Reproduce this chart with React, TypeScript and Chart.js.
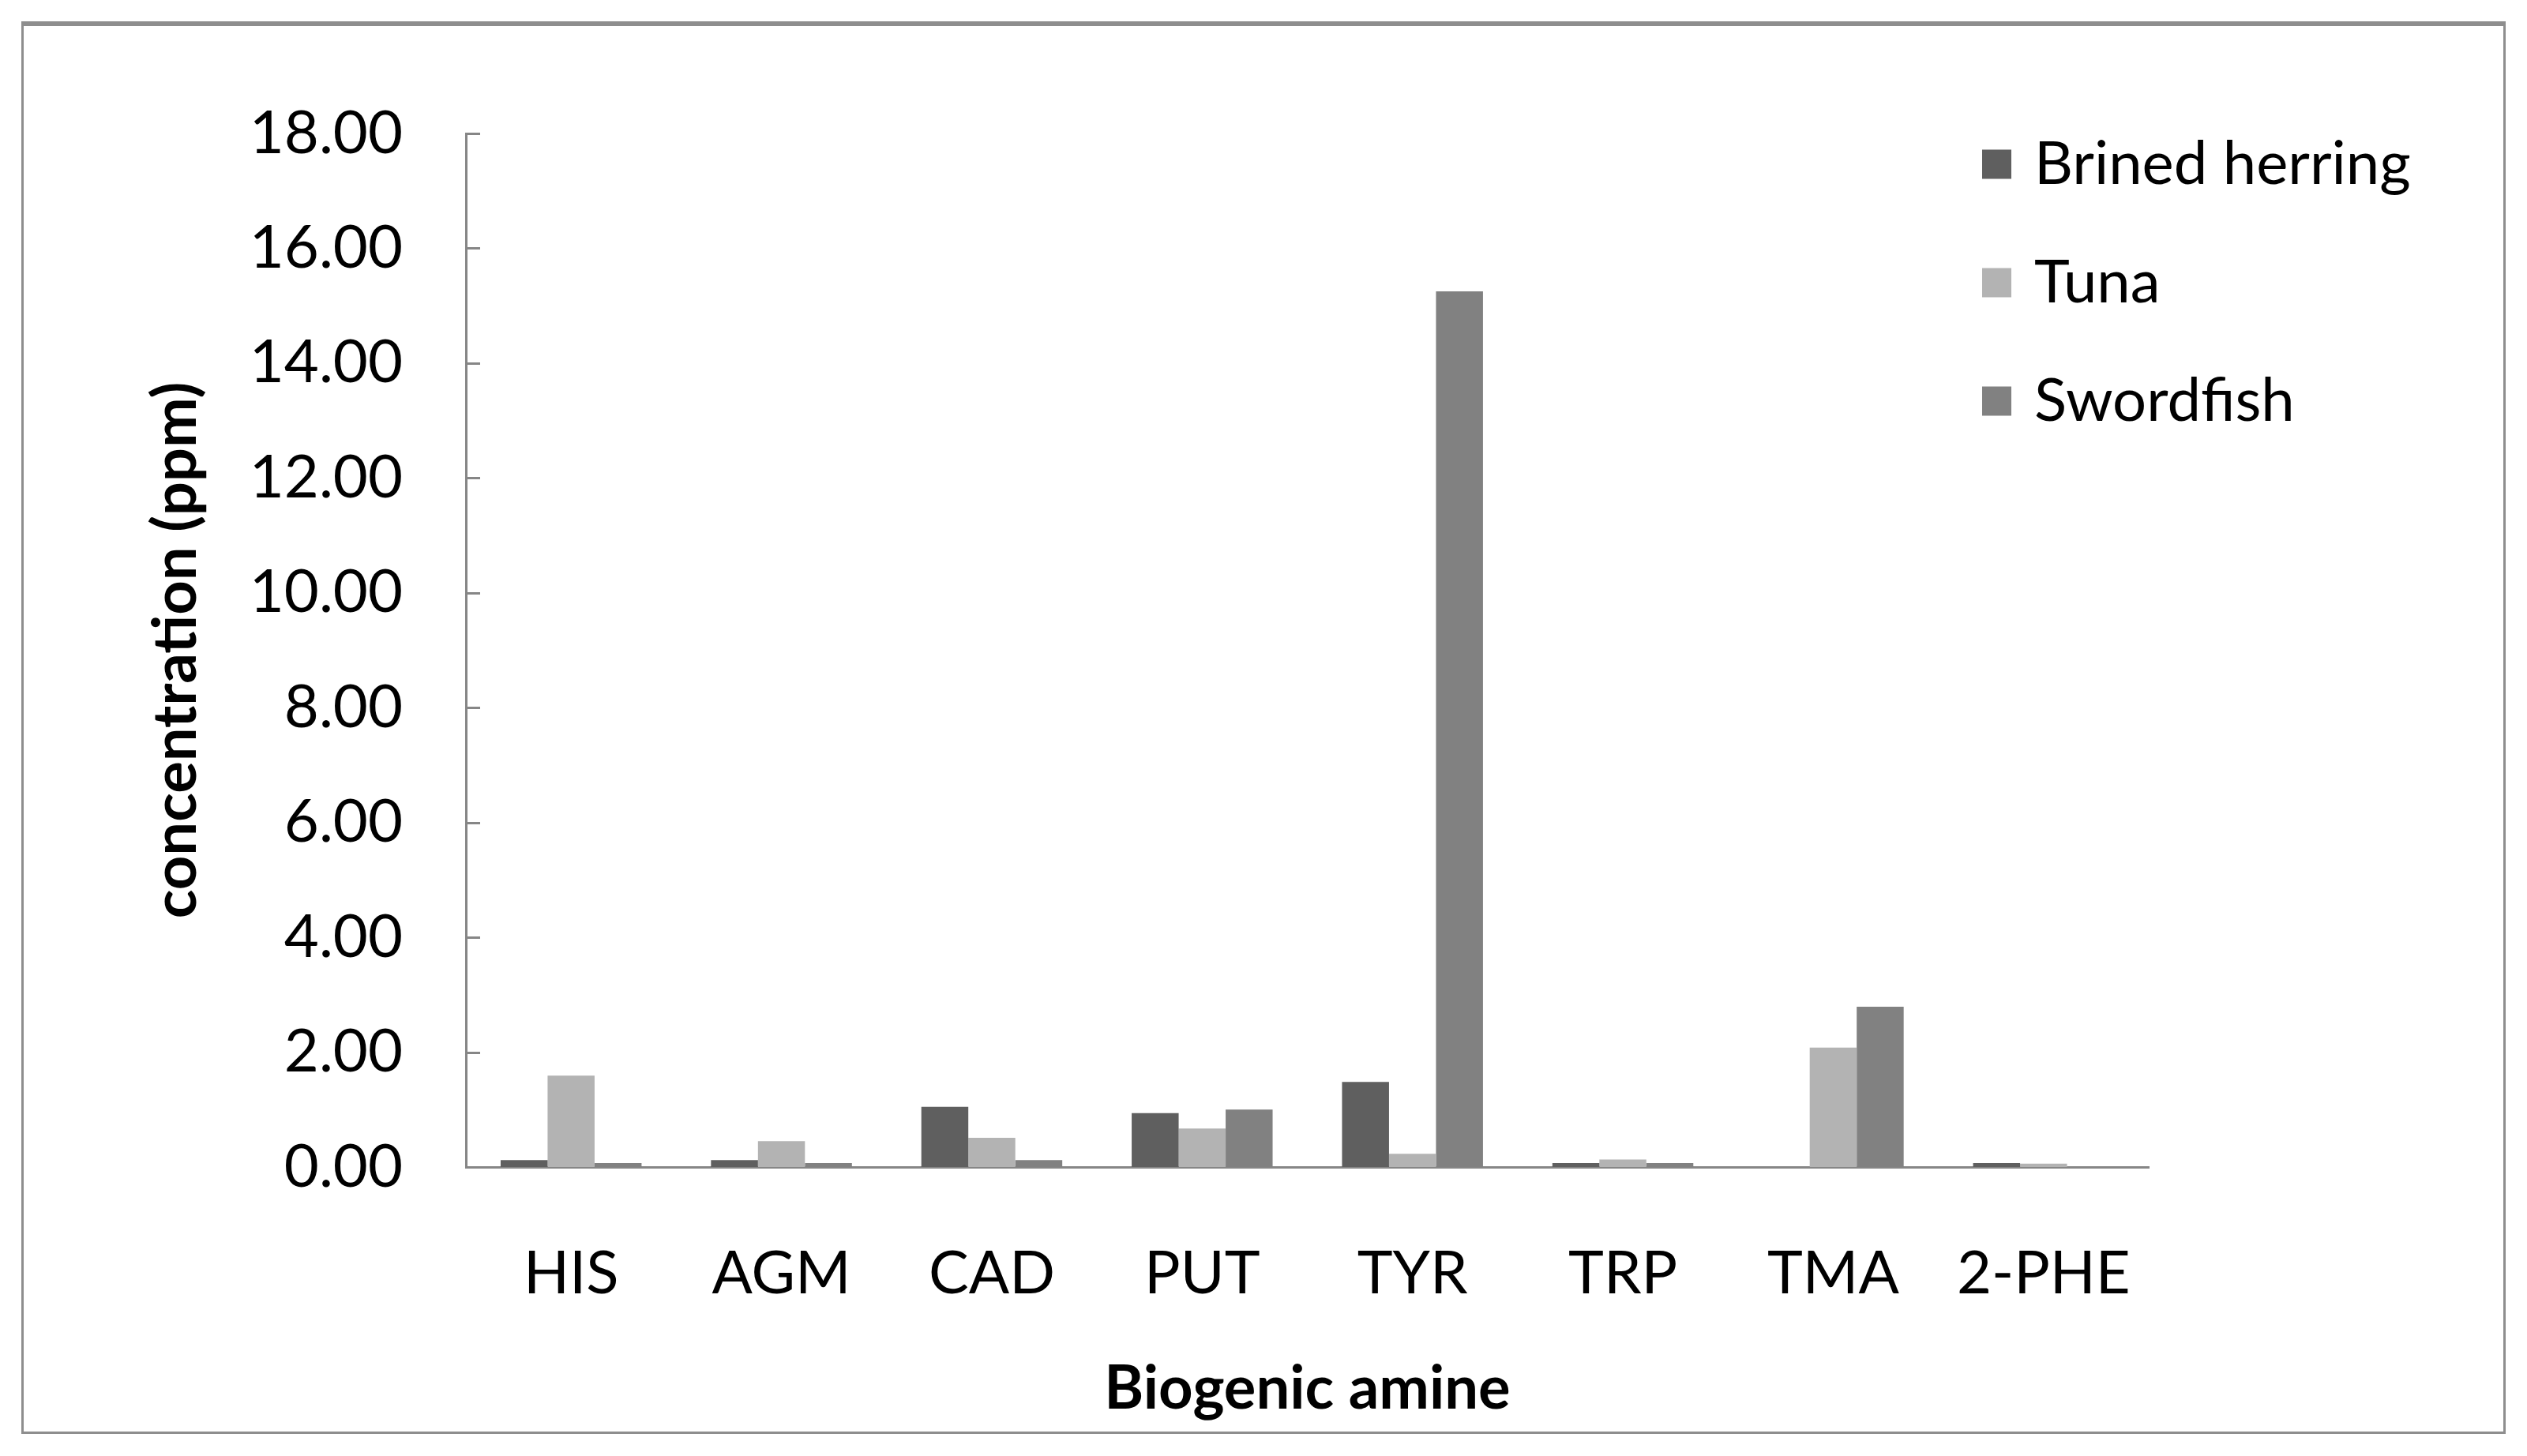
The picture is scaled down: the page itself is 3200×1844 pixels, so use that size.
import React, { useEffect, useRef } from "react";
import { Chart, registerables } from "chart.js";

Chart.register(...registerables);

const categories = ["HIS", "AGM", "CAD", "PUT", "TYR", "TRP", "TMA", "2-PHE"];
const brinedHerring = [0.12, 0.12, 1.05, 0.94, 1.48, 0.07, 0, 0.07];
const tuna = [1.59, 0.45, 0.51, 0.67, 0.23, 0.13, 2.08, 0.06];
const swordfish = [0.07, 0.07, 0.12, 1.0, 15.25, 0.07, 2.79, 0];
const seriesNames = ["Brined herring", "Tuna", "Swordfish"];
const seriesColors = ["#5f5f5f", "#b3b3b3", "#818181"];
const yTicks = [0, 2, 4, 6, 8, 10, 12, 14, 16, 18];

const W = 3200;
const H = 1844;
const FONT = "Lato, 'Noto Sans', sans-serif";

const innerTicks = {
  id: "innerTicks",
  afterDraw(chart: any) {
    const y = chart.scales.y;
    const ctx = chart.ctx;
    const left = chart.chartArea.left;
    ctx.save();
    ctx.strokeStyle = "#868686";
    ctx.lineWidth = 3;
    yTicks.forEach((v) => {
      const py = Math.round(y.getPixelForValue(v)) + 0.5;
      ctx.beginPath();
      ctx.moveTo(left, py);
      ctx.lineTo(left + 18, py);
      ctx.stroke();
    });
    ctx.restore();
  },
};

const sideLegend = {
  id: "sideLegend",
  afterDraw(chart: any) {
    const ctx = chart.ctx;
    const x0 = 2510;
    const y0 = 208;
    const step = 150;
    const sq = 37;
    ctx.save();
    ctx.font = `76px ${FONT}`;
    ctx.textBaseline = "middle";
    ctx.textAlign = "left";
    chart.data.datasets.forEach((ds: any, i: number) => {
      const cy = y0 + i * step;
      ctx.fillStyle = ds.backgroundColor;
      ctx.fillRect(x0, cy - sq / 2, sq, sq);
      ctx.fillStyle = "#000000";
      ctx.fillText(ds.label, x0 + 66, cy);
    });
    ctx.restore();
  },
};

export default function App() {
  const ref = useRef<HTMLCanvasElement | null>(null);
  useEffect(() => {
    document.body.style.margin = "0";
    document.body.style.overflow = "hidden";
    if (!ref.current) return;
    const datasets = [brinedHerring, tuna, swordfish].map((d, i) => ({
      label: seriesNames[i],
      data: d,
      backgroundColor: seriesColors[i],
      borderWidth: 0,
      categoryPercentage: 0.67,
      barPercentage: 1.0,
    }));
    const chart = new Chart(ref.current, {
      type: "bar",
      data: { labels: categories, datasets },
      plugins: [innerTicks, sideLegend],
      options: {
        animation: false,
        responsive: false,
        devicePixelRatio: 1,
        layout: { padding: { left: 0, right: 479, top: 169, bottom: 0 } },
        plugins: { legend: { display: false }, tooltip: { enabled: false } },
        scales: {
          x: {
            grid: { display: false, drawTicks: false },
            border: { display: true, color: "#868686", width: 3 },
            ticks: { font: { family: FONT, size: 76 }, color: "#000", padding: 90, maxRotation: 0 },
            title: {
              display: true,
              text: "Biogenic amine",
              font: { family: FONT, size: 76, weight: "bold" },
              color: "#000",
              padding: { top: 0, bottom: 39 },
            },
            afterFit: (s: any) => {
              s.height = H - 1478;
            },
          },
          y: {
            min: 0,
            max: 18,
            grid: { display: false, drawTicks: false },
            border: { display: true, color: "#868686", width: 3 },
            afterBuildTicks: (s: any) => {
              s.ticks = yTicks.map((v) => ({ value: v }));
            },
            ticks: {
              font: { family: FONT, size: 76 },
              color: "#000",
              padding: 80,
              callback: (v: any) => Number(v).toFixed(2),
            },
            title: {
              display: true,
              text: "concentration (ppm)",
              font: { family: FONT, size: 76, weight: "bold" },
              color: "#000",
              padding: { top: 178, bottom: 0 },
            },
            afterFit: (s: any) => {
              s.width = 590;
            },
          },
        },
      },
    });
    return () => chart.destroy();
  }, []);
  return (
    <div style={{ position: "relative", width: W, height: H, background: "#fff" }}>
      <canvas ref={ref} width={W} height={H} style={{ position: "absolute", left: 0, top: 0, width: W, height: H }} />
      <div
        style={{
          position: "absolute",
          left: 27,
          top: 27,
          width: 3146,
          height: 1789,
          boxSizing: "border-box",
          border: "3px solid #8e8e8e",
          borderTop: "6px solid #8e8e8e",
          pointerEvents: "none",
        }}
      />
    </div>
  );
}
